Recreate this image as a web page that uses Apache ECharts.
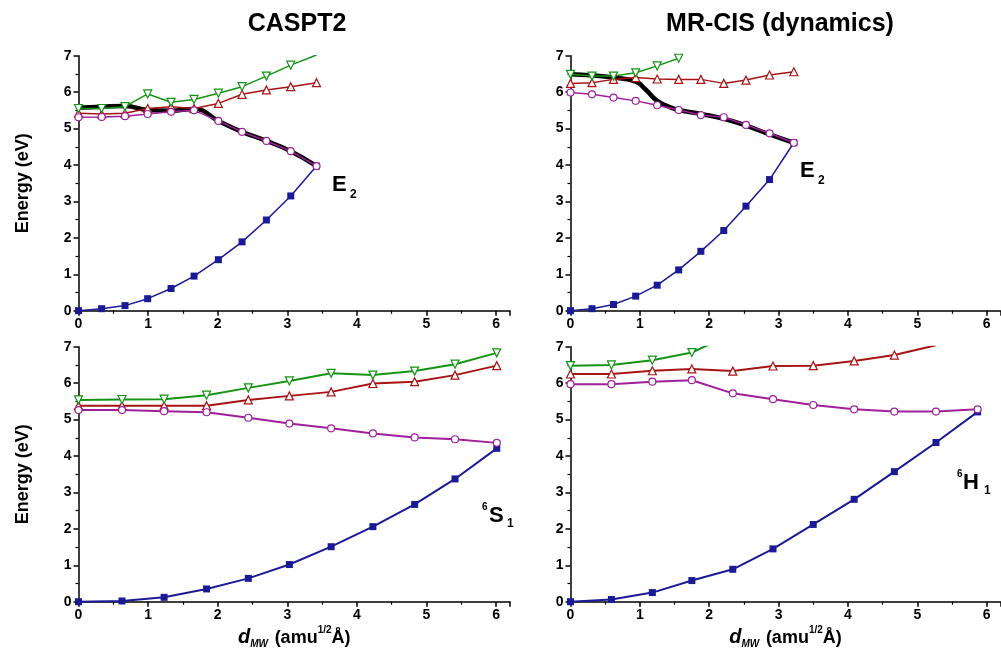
<!DOCTYPE html>
<html>
<head>
<meta charset="utf-8">
<script src="https://cdn.jsdelivr.net/npm/echarts@6/dist/echarts.min.js"></script>
<style>html,body{margin:0;padding:0;background:#fff}#c{width:1001px;height:670px}</style>
</head>
<body>
<div id="c"></div>
<script>
// ---- data (x in amu^1/2 Å, energies in eV) ----
const panelTitles = ['CASPT2', 'MR-CIS (dynamics)'];
const xTicks = [0, 1, 2, 3, 4, 5, 6];
const yTicks = [0, 1, 2, 3, 4, 5, 6, 7];

// top-left: CASPT2, E2 path
const tlX      = [0, 0.333, 0.668, 0.994, 1.33, 1.66, 2.01, 2.35, 2.70, 3.05, 3.42];
const tlBlue   = [0, 0.055, 0.14, 0.33, 0.61, 0.95, 1.40, 1.89, 2.49, 3.15, 3.97];
const tlPurple = [5.31, 5.32, 5.34, 5.40, 5.46, 5.50, 5.21, 4.91, 4.66, 4.38, 3.97];
const tlRed    = [5.42, 5.40, 5.42, 5.55, 5.60, 5.55, 5.69, 5.94, 6.06, 6.15, 6.26];
const tlGreen  = [5.55, 5.55, 5.60, 5.95, 5.72, 5.80, 5.97, 6.15, 6.44, 6.74, 7.02];
const tlBlackX = [0, 0.333, 0.668, 0.994, 1.33, 1.66, 2.01, 2.35, 2.70, 3.05, 3.42];
const tlBlack  = [5.57, 5.60, 5.62, 5.51, 5.49, 5.54, 5.21, 4.91, 4.66, 4.38, 3.97];

// top-right: MR-CIS, E2 path
const trX      = [0, 0.31, 0.62, 0.94, 1.25, 1.56, 1.88, 2.21, 2.53, 2.87, 3.22];
const trBlue   = [0, 0.055, 0.17, 0.40, 0.70, 1.12, 1.63, 2.20, 2.87, 3.60, 4.61];
const trPurple = [5.99, 5.94, 5.85, 5.76, 5.64, 5.51, 5.37, 5.31, 5.10, 4.87, 4.61];
const trRed    = [6.24, 6.26, 6.35, 6.40, 6.36, 6.35, 6.35, 6.24, 6.33, 6.47, 6.56];
const trGreen  = [6.49, 6.44, 6.44, 6.53, 6.72, 6.93];
const trBlackX = [0, 0.31, 0.62, 0.94, 1.08, 1.25, 1.42, 1.56, 1.88, 2.21, 2.53, 2.87, 3.22];
const trBlack  = [6.49, 6.46, 6.40, 6.29, 6.08, 5.76, 5.60, 5.51, 5.40, 5.27, 5.08, 4.84, 4.61];

// bottom-left: CASPT2, 6S1 path
const blX      = [0, 0.625, 1.23, 1.84, 2.44, 3.03, 3.63, 4.23, 4.83, 5.41, 6.01];
const blBlue   = [0, 0.02, 0.12, 0.35, 0.64, 1.02, 1.51, 2.06, 2.67, 3.37, 4.21];
const blPurple = [5.26, 5.26, 5.23, 5.20, 5.05, 4.89, 4.76, 4.62, 4.51, 4.46, 4.36];
const blRed    = [5.38, 5.38, 5.38, 5.38, 5.54, 5.65, 5.76, 5.99, 6.04, 6.22, 6.48];
const blGreen  = [5.54, 5.55, 5.56, 5.67, 5.87, 6.06, 6.27, 6.22, 6.33, 6.52, 6.83];

// bottom-right: MR-CIS, 6H1 path
const brX      = [0, 0.59, 1.18, 1.75, 2.34, 2.92, 3.50, 4.09, 4.67, 5.27, 5.87];
const brBlue   = [0, 0.06, 0.25, 0.58, 0.89, 1.45, 2.12, 2.81, 3.57, 4.37, 5.21];
const brPurple = [5.97, 5.97, 6.04, 6.08, 5.72, 5.56, 5.40, 5.28, 5.22, 5.22, 5.28];
const brRed    = [6.25, 6.25, 6.34, 6.39, 6.33, 6.47, 6.48, 6.61, 6.77, 7.04];
const brGreen  = [6.48, 6.50, 6.63, 6.84, 7.36];

// ---- styling ----
const FONT = "'Liberation Sans', Arial, Helvetica, sans-serif";
const C = { blue: '#1a1a96', purple: '#a0209c', red: '#a81414', green: '#149414', black: '#000' };

function pairs(xs, ys) { return ys.map((y, i) => [xs[i], y]); }

const grids = [
  { left: 78.5, top: 55.7, width: 431.5, height: 255 },
  { left: 570.5, top: 55.7, width: 430, height: 255 },
  { left: 78.5, top: 346.7, width: 431.5, height: 255 },
  { left: 570.5, top: 346.7, width: 430, height: 255 }
].map(g => Object.assign({ containLabel: false, outerBoundsMode: 'none' }, g));

const xName = '{d|d}{sub|MW}  {t|(amu}{sup|1/2}{t|Å)}';
const xNameStyle = {
  color: '#000', fontFamily: FONT, fontWeight: 'bold',
  rich: {
    d:   { fontSize: 20, fontStyle: 'italic', fontWeight: 'bold', fontFamily: FONT, lineHeight: 24, color: '#000' },
    sub: { fontSize: 10, fontStyle: 'italic', fontWeight: 'bold', fontFamily: FONT, lineHeight: 12, verticalAlign: 'bottom', color: '#000' },
    t:   { fontSize: 18, fontWeight: 'bold', fontFamily: FONT, lineHeight: 24, color: '#000' },
    sup: { fontSize: 10, fontWeight: 'bold', fontFamily: FONT, lineHeight: 12, verticalAlign: 'top', color: '#000' }
  }
};

function xAxis(i) {
  const bottom = i >= 2;
  return {
    gridIndex: i, type: 'value', min: 0, max: 6.2, interval: 1,
    name: bottom ? xName : '', nameLocation: 'middle', nameGap: 24, nameTextStyle: xNameStyle,
    axisLine: { show: true, onZero: false, lineStyle: { color: '#000', width: 1.5 } },
    axisTick: { show: true, length: 5, lineStyle: { color: '#000', width: 1.5 } },
    minorTick: { show: true, splitNumber: 2, length: 3, lineStyle: { color: '#000', width: 1.2 } },
    splitLine: { show: false }, minorSplitLine: { show: false },
    axisLabel: {
      color: '#000', fontFamily: FONT, fontWeight: 'bold', fontSize: 14, margin: 6,
      formatter: v => (xTicks.indexOf(v) >= 0 ? String(v) : '')
    }
  };
}
function yAxis(i) {
  const left = i % 2 === 0;
  return {
    gridIndex: i, type: 'value', min: 0, max: 7, interval: 1,
    name: left ? 'Energy (eV)' : '', nameLocation: 'middle', nameGap: 46, nameRotate: 90,
    nameTextStyle: { color: '#000', fontFamily: FONT, fontWeight: 'bold', fontSize: 18 },
    axisLine: { show: true, onZero: false, lineStyle: { color: '#000', width: 1.5 } },
    axisTick: { show: true, length: 5, lineStyle: { color: '#000', width: 1.5 } },
    minorTick: { show: true, splitNumber: 2, length: 3, lineStyle: { color: '#000', width: 1.2 } },
    splitLine: { show: false }, minorSplitLine: { show: false },
    axisLabel: {
      color: '#000', fontFamily: FONT, fontWeight: 'bold', fontSize: 14, margin: 7,
      formatter: v => (yTicks.indexOf(v) >= 0 ? String(v) : '')
    }
  };
}

function line(i, xs, ys, kind, lw) {
  const base = { type: 'line', xAxisIndex: i, yAxisIndex: i, data: pairs(xs, ys), animation: false, silent: true, clip: true };
  if (kind === 'black') {
    return Object.assign(base, { symbol: 'none', smooth: 0.5, lineStyle: { color: C.black, width: 4.5 }, itemStyle: { color: C.black }, z: 1 });
  }
  const col = C[kind];
  const s = Object.assign(base, { lineStyle: { color: col, width: lw }, z: 2 });
  if (kind === 'blue') {
    s.symbol = 'rect'; s.symbolSize = 7; s.itemStyle = { color: col, borderWidth: 0 };
  } else if (kind === 'purple') {
    s.symbol = 'circle'; s.symbolSize = 7; s.itemStyle = { color: '#fff', borderColor: col, borderWidth: 1.2 };
  } else if (kind === 'red') {
    s.symbol = 'triangle'; s.symbolSize = 8; s.itemStyle = { color: '#fff', borderColor: col, borderWidth: 1.2 };
  } else if (kind === 'green') {
    s.symbol = 'triangle'; s.symbolSize = 8; s.symbolRotate = 180; s.itemStyle = { color: '#fff', borderColor: col, borderWidth: 1.2 };
  }
  return s;
}

const series = [
  line(0, tlBlackX, tlBlack, 'black'),
  line(0, tlX, tlRed, 'red', 1.5),
  line(0, tlX, tlGreen, 'green', 1.5),
  line(0, tlX, tlBlue, 'blue', 1.5),
  line(0, tlX, tlPurple, 'purple', 1.5),

  line(1, trBlackX, trBlack, 'black'),
  line(1, trX, trRed, 'red', 1.5),
  line(1, trX, trGreen, 'green', 1.5),
  line(1, trX, trBlue, 'blue', 1.5),
  line(1, trX, trPurple, 'purple', 1.5),

  line(2, blX, blRed, 'red', 2),
  line(2, blX, blGreen, 'green', 2),
  line(2, blX, blBlue, 'blue', 2),
  line(2, blX, blPurple, 'purple', 2),

  line(3, brX, brRed, 'red', 2),
  line(3, brX, brGreen, 'green', 2),
  line(3, brX, brBlue, 'blue', 2),
  line(3, brX, brPurple, 'purple', 2)
];

function txt(x, y, s, size, align) {
  return { type: 'text', x: x, y: y, silent: true, style: { text: s, fill: '#000', font: 'bold ' + size + 'px ' + FONT, textAlign: align || 'left', textVerticalAlign: 'top' } };
}

const graphic = [
  txt(297, 12, panelTitles[0], 25, 'center'),
  txt(780, 12, panelTitles[1], 25, 'center'),
  // state labels
  txt(332, 174, 'E', 22), txt(350, 189, '2', 12),
  txt(800, 160, 'E', 22), txt(818, 175, '2', 12),
  txt(482, 502, '6', 10), txt(489, 505, 'S', 22), txt(507, 518, '1', 12),
  txt(957, 469, '6', 10), txt(963, 472, 'H', 22), txt(984, 485, '1', 12)
];

const chart = echarts.init(document.getElementById('c'), null, { renderer: 'canvas' });
chart.setOption({
  animation: false,
  backgroundColor: '#fff',
  grid: grids,
  xAxis: [0, 1, 2, 3].map(xAxis),
  yAxis: [0, 1, 2, 3].map(yAxis),
  series: series,
  graphic: graphic
});
</script>
</body>
</html>
